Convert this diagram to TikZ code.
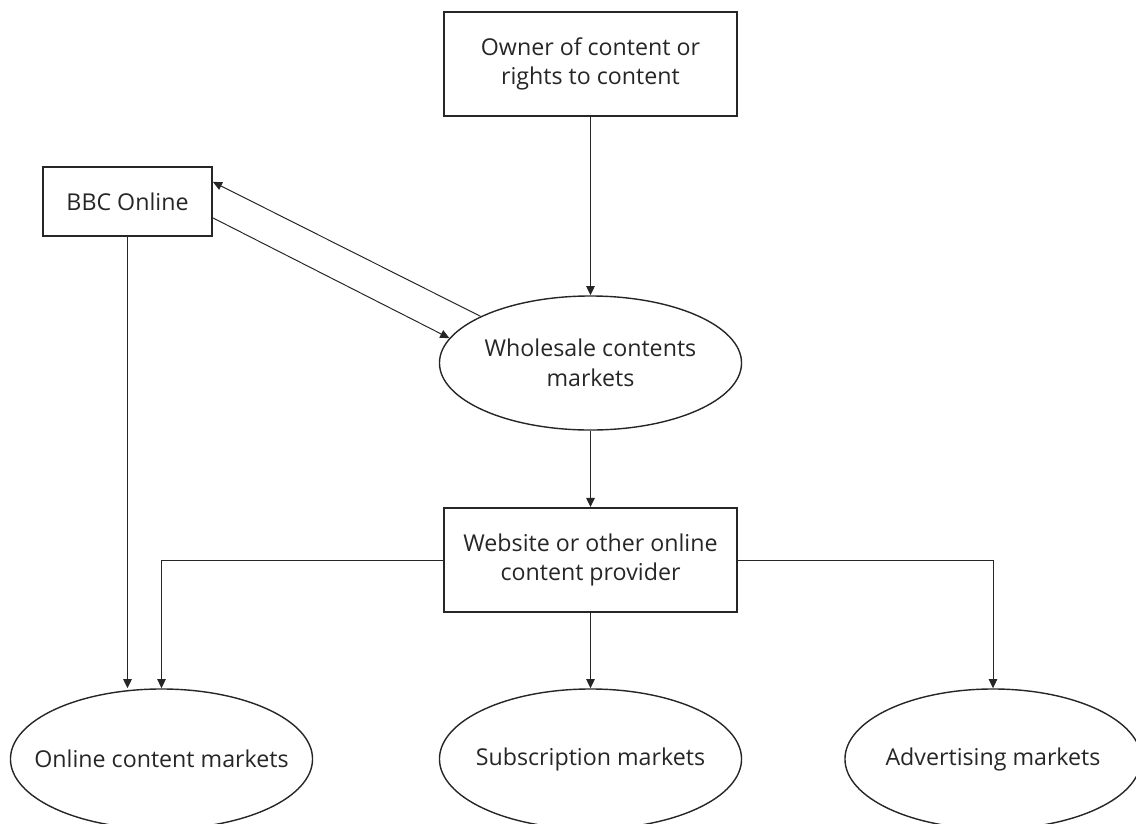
\documentclass[tikz,border=0pt]{standalone}
\usepackage{fontspec}
\setmainfont{Open Sans}
\usetikzlibrary{shapes.geometric, arrows.meta, positioning}

\begin{document}
\begin{tikzpicture}[
        x=0.025cm, y=-0.025cm,
        font=\fontsize{16.5pt}{21pt}\selectfont,
        % Styles
        block/.style={
            rectangle,
            draw=black!85,
            line width=1.3pt,
            minimum width=7.33cm,
            minimum height=2.6cm,
            align=center,
            text=black!85,
            inner sep=0pt
        },
        market/.style={
            ellipse,
            draw=black!85,
            line width=1pt,
            minimum width=7.55cm,
            minimum height=3.4cm,
            inner xsep=-1cm,
            inner ysep=0pt,
            align=center,
            text=black!85
        },
        conn/.style={-{Triangle[length=6.5pt, width=6pt]}, line width=0.9pt, draw=black!85},
        feed/.style={conn, line width=0.7pt}
    ]

    \useasboundingbox (0,0) rectangle (1136,823);

    % ==============================
    % 1. SOURCES
    % ==============================
    \node[block] (owner) at (590.5,63.7) {Owner of content or\\rights to content};

    \node[block, minimum width=4.225cm, minimum height=1.725cm] (bbc) at (127.5,201.5) {BBC Online};

    % ==============================
    % 2. WHOLESALE AND PROVIDER
    % ==============================
    \node[market, minimum height=3.35cm] (wholesale) at (590.5,363) {Wholesale contents\\markets};

    \node[block] (provider) at (590.5,560) {Website or other online\\content provider};

    % ==============================
    % 3. RETAIL MARKETS
    % ==============================
    \node[market, minimum height=3.5cm] (online_mkt) at (161.5,759) {Online content markets};
    \node[market, minimum height=3.5cm] (sub_mkt) at (590.5,759) {Subscription markets};
    \node[market, minimum height=3.5cm, minimum width=7.4cm] (adv_mkt) at (993,759) {Advertising markets};

    % ==============================
    % 4. CONNECTIONS
    % ==============================
    \draw[conn] (owner) -- (wholesale);
    \draw[conn] (wholesale) -- (provider);
    \draw[conn] (provider) -- (sub_mkt);

    \draw[feed] (provider.west) -| (online_mkt.north);
    \draw[feed] (provider.east) -| (adv_mkt.north);

    \draw[conn] (bbc) -- (bbc |- online_mkt.north);

    \draw[feed] (wholesale.157) -- ([yshift=0.49cm]bbc.east);
    \draw[feed] ([yshift=-0.41cm]bbc.east) -- (wholesale.170);

\end{tikzpicture}
\end{document}
